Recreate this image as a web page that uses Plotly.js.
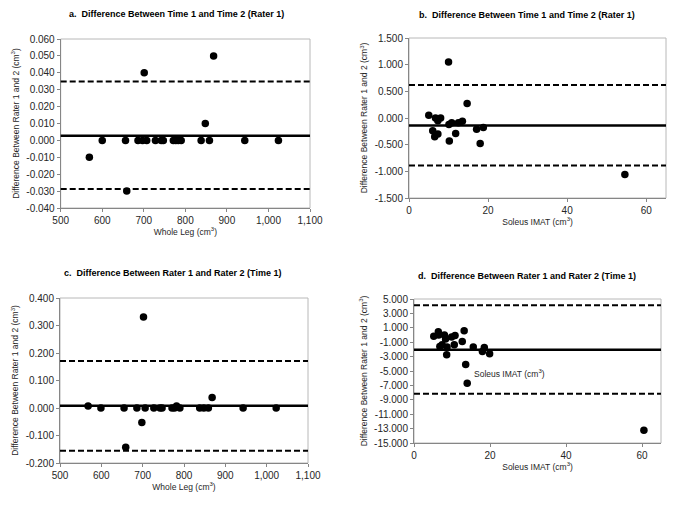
<!DOCTYPE html>
<html>
<head>
<meta charset="utf-8">
<script src="https://cdn.plot.ly/plotly-3.0.1.min.js"></script>
<style>html,body{margin:0;padding:0;background:#fff}#chart{width:676px;height:505px}</style>
</head>
<body>
<div id="chart"></div>
<script>
// ---- Panel a: Time 1 vs Time 2 (Rater 1), whole leg ----
const aX = [569, 600, 656, 659, 686, 697, 701, 707, 728, 742, 747, 771, 777, 783, 790, 838, 848, 858, 868, 943, 1024];
const aY = [-0.010, 0, 0, -0.030, 0, 0, 0.040, 0, 0, 0, 0, 0, 0, 0, 0, 0, 0.010, 0, 0.050, 0, 0];
const aLines = [0.0028, 0.0348, -0.0288]; // mean, upper LoA, lower LoA

// ---- Panel b: Time 1 vs Time 2 (Rater 1), soleus IMAT ----
const bX = [5.0, 6.7, 6.0, 6.5, 7.3, 7.3, 8.0, 10.0, 10.2, 10.1, 10.8, 11.8, 12.5, 13.5, 14.7, 17.1, 18.0, 18.8, 54.6];
const bY = [0.05, 0.00, -0.24, -0.35, -0.30, -0.05, 0.00, 1.05, -0.43, -0.12, -0.09, -0.29, -0.09, -0.06, 0.27, -0.21, -0.48, -0.18, -1.06];
const bLines = [-0.14, 0.62, -0.89];

// ---- Panel c: Rater 1 vs Rater 2 (Time 1), whole leg ----
const cX = [568, 599, 655, 659, 686, 698, 702, 706, 727, 742, 747, 771, 777, 782, 790, 838, 848, 859, 868, 943, 1023];
const cY = [0.007, 0, 0, -0.143, 0, -0.053, 0.331, 0, 0, 0, 0, 0, 0, 0.007, 0, 0, 0, 0, 0.038, 0, 0];
const cLines = [0.008, 0.171, -0.155];

// ---- Panel d: Rater 1 vs Rater 2 (Time 1), soleus IMAT ----
const dX = [5.2, 6.4, 6.5, 8.0, 8.3, 6.8, 7.4, 8.7, 8.6, 9.9, 10.8, 10.6, 12.7, 13.2, 13.6, 14.0, 15.6, 18.0, 18.5, 19.9, 60.5];
const dY = [-0.19, 0.46, 0.0, 0.0, -0.56, -1.58, -1.35, -1.67, -2.74, -0.28, -0.06, -1.35, -0.89, 0.60, -4.08, -6.71, -1.67, -2.28, -1.72, -2.60, -13.24];
const dLines = [-2.05, 4.12, -8.15];

// ---- Titles and tick labels ----
const titles = [
  "a.  Difference Between Time 1 and Time 2 (Rater 1)",
  "b.  Difference Between Time 1 and Time 2 (Rater 1)",
  "c.  Difference Between Rater 1 and Rater 2 (Time 1)",
  "d.  Difference Between Rater 1 and Rater 2 (Time 1)"
];
const yTitle = "Difference Between Rater 1 and 2 (cm<sup>3</sup>)";
const legTitle = "Whole Leg (cm<sup>3</sup>)";
const solTitle = "Soleus IMAT (cm<sup>3</sup>)";

const aYTicks = [-0.04, -0.03, -0.02, -0.01, 0, 0.01, 0.02, 0.03, 0.04, 0.05, 0.06];
const aYText = ["-0.040", "-0.030", "-0.020", "-0.010", "0.000", "0.010", "0.020", "0.030", "0.040", "0.050", "0.060"];
const bYTicks = [-1.5, -1.0, -0.5, 0, 0.5, 1.0, 1.5];
const bYText = ["-1.500", "-1.000", "-0.500", "0.000", "0.500", "1.000", "1.500"];
const cYTicks = [-0.2, -0.1, 0, 0.1, 0.2, 0.3, 0.4];
const cYText = ["-0.200", "-0.100", "0.000", "0.100", "0.200", "0.300", "0.400"];
const dYTicks = [-15, -13, -11, -9, -7, -5, -3, -1, 1, 3, 5];
const dYText = ["-15.000", "-13.000", "-11.000", "-9.000", "-7.000", "-5.000", "-3.000", "-1.000", "1.000", "3.000", "5.000"];
const legXTicks = [500, 600, 700, 800, 900, 1000, 1100];
const legXText = ["500", "600", "700", "800", "900", "1,000", "1,100"];
const solXTicks = [0, 20, 40, 60];
const solXText = ["0", "20", "40", "60"];

const W = 676, H = 505;
const FONT = "Liberation Sans, Arial, sans-serif";
const TXT = "#262626";

function px(x0, x1) { return [x0 / W, x1 / W]; }
function py(top, bottom) { return [1 - bottom / H, 1 - top / H]; }

function pts(x, y, n) {
  return { type: "scatter", mode: "markers", x: x, y: y,
    xaxis: "x" + n, yaxis: "y" + n,
    marker: { color: "#000", size: 7.5 }, hoverinfo: "x+y", showlegend: false };
}

const data = [pts(aX, aY, ""), pts(bX, bY, "2"), pts(cX, cY, "3"), pts(dX, dY, "4")];
data[0].xaxis = "x"; data[0].yaxis = "y";

function xa(dom, range, tv, tt, anchor, title) {
  return { domain: dom, range: range, tickvals: tv, ticktext: tt, anchor: anchor,
    showline: true, linecolor: "#868686", linewidth: 1, mirror: false,
    ticks: "outside", ticklen: 3, tickcolor: "#868686", showgrid: false, zeroline: false,
    tickfont: { family: FONT, size: 10, color: TXT },
    title: { text: title, font: { family: FONT, size: 8.5, color: TXT }, standoff: 3 } };
}
function ya(dom, range, tv, tt, anchor, title) {
  return { domain: dom, range: range, tickvals: tv, ticktext: tt, anchor: anchor,
    showline: true, linecolor: "#868686", linewidth: 1,
    ticks: "outside", ticklen: 3, tickcolor: "#868686", showgrid: false, zeroline: false,
    tickfont: { family: FONT, size: 10, color: TXT },
    title: { text: title, font: { family: FONT, size: 8.5, color: TXT }, standoff: 5 } };
}

const dA = { x: px(60.7, 310), y: py(39, 208) };
const dB = { x: px(409, 666), y: py(38, 198) };
const dC = { x: px(60, 308), y: py(298, 463) };
const dD = { x: px(414, 661), y: py(299, 443) };

const layout = {
  width: W, height: H, margin: { l: 0, r: 0, t: 0, b: 0 },
  paper_bgcolor: "#fff", plot_bgcolor: "#fff", showlegend: false,
  font: { family: FONT, color: TXT },
  xaxis: xa(dA.x, [500, 1100], legXTicks, legXText, "y", legTitle),
  yaxis: ya(dA.y, [-0.04, 0.06], aYTicks, aYText, "x", yTitle),
  xaxis2: xa(dB.x, [0, 65], solXTicks, solXText, "y2", solTitle),
  yaxis2: ya(dB.y, [-1.5, 1.5], bYTicks, bYText, "x2", yTitle),
  xaxis3: xa(dC.x, [500, 1100], legXTicks, legXText, "y3", legTitle),
  yaxis3: ya(dC.y, [-0.2, 0.4], cYTicks, cYText, "x3", yTitle),
  xaxis4: xa(dD.x, [0, 65], solXTicks, solXText, "y4", solTitle),
  yaxis4: ya(dD.y, [-15, 5], dYTicks, dYText, "x4", yTitle),
  shapes: [],
  annotations: []
};

const panels = [
  { xr: "x", yr: "y", dom: dA, lines: aLines },
  { xr: "x2", yr: "y2", dom: dB, lines: bLines },
  { xr: "x3", yr: "y3", dom: dC, lines: cLines },
  { xr: "x4", yr: "y4", dom: dD, lines: dLines }
];
panels.forEach(function (p, i) {
  // light frame around plot area
  layout.shapes.push({ type: "rect", xref: "paper", yref: "paper",
    x0: p.dom.x[0], x1: p.dom.x[1], y0: p.dom.y[0], y1: p.dom.y[1],
    line: { color: "#b8b8b8", width: 1 }, layer: "below" });
  p.lines.forEach(function (v, j) {
    layout.shapes.push({ type: "line", xref: p.xr + " domain", yref: p.yr,
      x0: 0, x1: 1, y0: v, y1: v,
      line: { color: "#000", width: j === 0 ? 2.5 : 2, dash: j === 0 ? "solid" : "6px,3px" } });
  });
});

const titlePos = [[176, 14], [527, 15], [172, 273], [527, 276]];
titles.forEach(function (t, i) {
  layout.annotations.push({ text: "<b>" + t + "</b>", xref: "paper", yref: "paper",
    x: titlePos[i][0] / W, y: 1 - titlePos[i][1] / H, showarrow: false,
    xanchor: "center", yanchor: "middle",
    font: { family: FONT, size: 9, color: "#000" } });
});
// stray x-axis label drawn inside panel d in the original
layout.annotations.push({ text: solTitle, xref: "paper", yref: "paper",
  x: 509 / W, y: 1 - 373 / H, showarrow: false, xanchor: "center", yanchor: "middle",
  font: { family: FONT, size: 8.5, color: TXT } });

Plotly.newPlot("chart", data, layout, { displayModeBar: false, staticPlot: true });
</script>
</body>
</html>
